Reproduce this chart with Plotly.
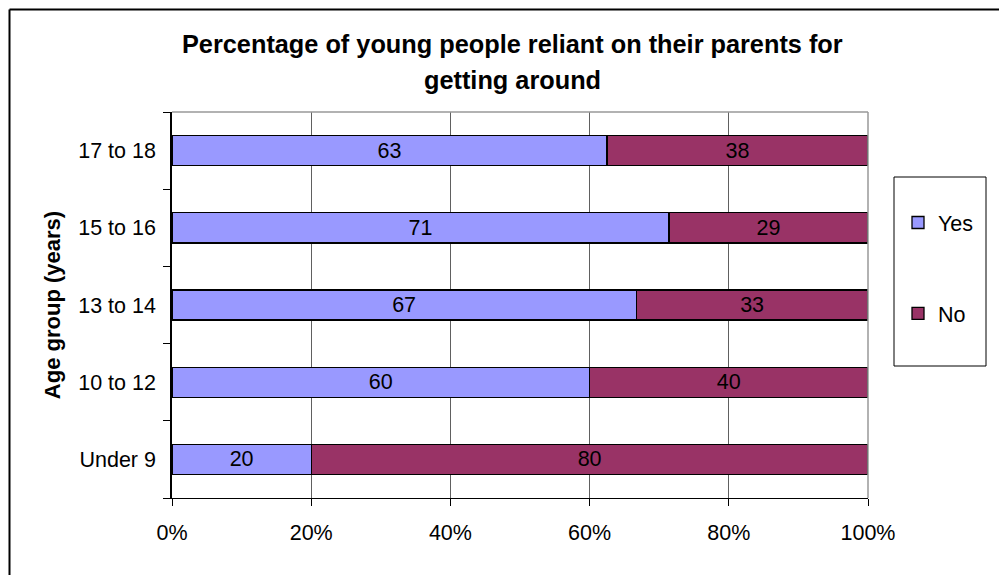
import plotly.graph_objects as go

# Data
age_groups = ["Under 9", "10 to 12", "13 to 14", "15 to 16", "17 to 18"]
yes_pct = [20, 60, 66.7, 71.4, 62.5]
no_pct = [80, 40, 33.3, 28.6, 37.5]
yes_labels = ["20", "60", "67", "71", "63"]
no_labels = ["80", "40", "33", "29", "38"]
x_ticks = [0, 20, 40, 60, 80, 100]
x_tick_labels = ["0%", "20%", "40%", "60%", "80%", "100%"]

OFF = 8  # page body margin pushes the figure right/down
W, H = 1007 - OFF, 575 - OFF
L, R, T, B = 172, 868, 112, 498  # plot area in pixels (as seen in the window)


def px_x(p):
    return (p - L) / (R - L)


def px_y(p):
    return (B - p) / (B - T)


font = "Liberation Sans, Arial, sans-serif"
fs = 21.5

fig = go.Figure()
fig.add_trace(go.Bar(
    y=age_groups, x=yes_pct, orientation="h", name="Yes", legendgroup="yes",
    marker=dict(color="#9999FF", line=dict(color="black", width=1.3)),
    text=yes_labels, textposition="inside", insidetextanchor="middle",
    constraintext="none", insidetextfont=dict(color="black", size=fs, family=font),
    hoverinfo="x+y",
))
fig.add_trace(go.Bar(
    y=age_groups, x=no_pct, orientation="h", name="No", legendgroup="no",
    marker=dict(color="#993366", line=dict(color="black", width=1.3)),
    text=no_labels, textposition="inside", insidetextanchor="middle",
    constraintext="none", insidetextfont=dict(color="black", size=fs, family=font),
    hoverinfo="x+y",
))

fig.update_layout(
    width=W, height=H,
    margin=dict(l=L - OFF, r=W - (R - OFF), t=T - OFF, b=H - (B - OFF)),
    barmode="stack", bargap=0.61,
    paper_bgcolor="white", plot_bgcolor="white",
    font=dict(family=font, size=fs, color="black"),
    showlegend=True,
    legend=dict(
        x=px_x(898), y=px_y(202), xanchor="left", yanchor="top",
        traceorder="grouped", tracegroupgap=60,
        font=dict(size=fs), bgcolor="rgba(0,0,0,0)", borderwidth=0,
    ),
    xaxis=dict(
        range=[0, 100], tickvals=x_ticks, ticktext=x_tick_labels,
        showgrid=True, gridcolor="#606060", gridwidth=1,
        showline=True, linecolor="black", linewidth=1,
        ticks="outside", ticklen=7, tickcolor="black", ticklabelstandoff=8,
        zeroline=False, fixedrange=True,
    ),
    yaxis=dict(
        range=[-0.5, 4.5], categoryorder="array", categoryarray=age_groups,
        showline=True, linecolor="black", linewidth=1.5,
        ticks="outside", ticklen=7, tickcolor="black", tickson="boundaries",
        ticklabelstandoff=10,
        showgrid=False, fixedrange=True,
        title=dict(text="<b>Age group (years)</b>", font=dict(size=22), standoff=12),
    ),
    annotations=[
        dict(text="<b>Percentage of young people reliant on their parents for</b>",
             xref="paper", yref="paper", x=px_x(512), y=px_y(44), showarrow=False,
             font=dict(size=25.3), xanchor="center", yanchor="middle"),
        dict(text="<b>getting around</b>",
             xref="paper", yref="paper", x=px_x(512), y=px_y(80), showarrow=False,
             font=dict(size=25.3), xanchor="center", yanchor="middle"),
    ],
    shapes=[
        # gray top and right borders of plot area
        dict(type="line", xref="paper", yref="paper", x0=0, x1=1, y0=1, y1=1,
             line=dict(color="#999999", width=1.5)),
        dict(type="line", xref="paper", yref="paper", x0=1, x1=1, y0=0, y1=1,
             line=dict(color="#999999", width=1.5)),
        # legend box
        dict(type="rect", xref="paper", yref="paper",
             x0=px_x(894), x1=px_x(986), y0=px_y(366), y1=px_y(177),
             line=dict(color="black", width=1)),
        # outer chart border: only the left and top edges show in the window
        dict(type="line", xref="paper", yref="paper",
             x0=px_x(9.5), x1=px_x(9.5), y0=px_y(600), y1=px_y(9.5),
             line=dict(color="black", width=2)),
        dict(type="line", xref="paper", yref="paper",
             x0=px_x(9.5), x1=px_x(1100), y0=px_y(9.5), y1=px_y(9.5),
             line=dict(color="black", width=2)),
    ],
)

fig.write_html("out.html")
